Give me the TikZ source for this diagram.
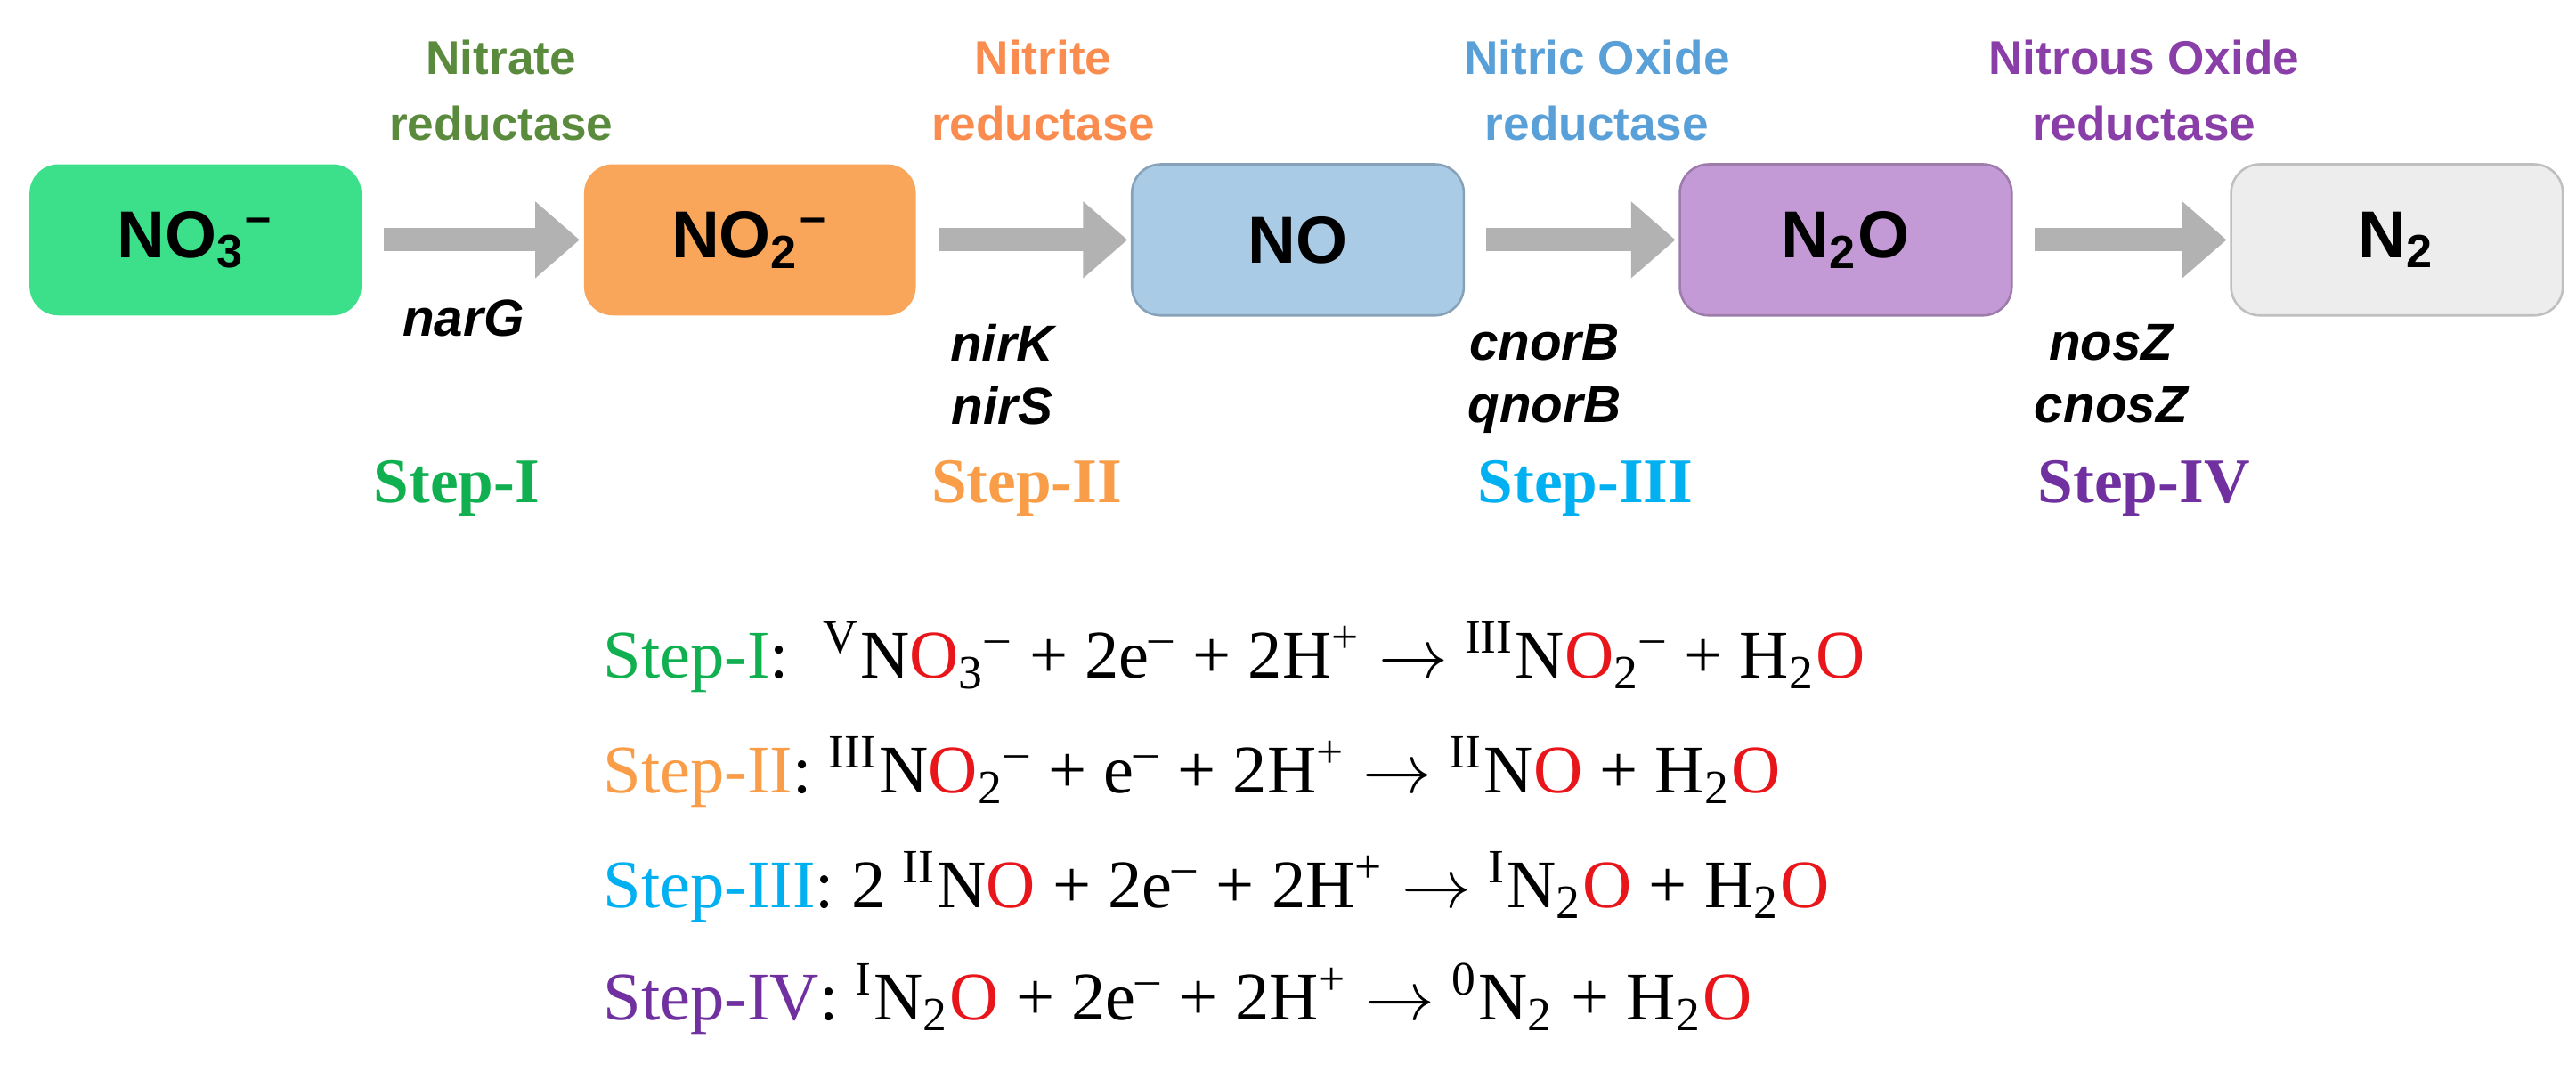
\documentclass[tikz,border=0pt]{standalone}
\usepackage{fontspec}
\setmainfont{Liberation Serif}
\setsansfont{Liberation Sans}
\usetikzlibrary{arrows.meta}
\definecolor{cg}{HTML}{3DE08A}\definecolor{co}{HTML}{F9A65A}\definecolor{cb}{HTML}{A9CBE6}
\definecolor{cp}{HTML}{C49AD6}\definecolor{cgr}{HTML}{EDEDED}
\definecolor{eg}{HTML}{5A8A3C}\definecolor{eo}{HTML}{F98C4E}\definecolor{eb}{HTML}{5AA0D8}\definecolor{ep}{HTML}{8A3FA8}
\definecolor{sg}{HTML}{10B050}\definecolor{so}{HTML}{F99D48}\definecolor{sb}{HTML}{00B0F0}\definecolor{sp}{HTML}{7030A0}
\definecolor{ox}{HTML}{E8161B}
\tikzset{
 spec/.style={rounded corners=5pt,minimum width=2.02cm,minimum height=0.92cm,font=\sffamily\bfseries\fontsize{11.5}{13}\selectfont},
 enz/.style={font=\sffamily\bfseries\fontsize{8.2}{11.3}\selectfont,align=center},
 gene/.style={font=\sffamily\bfseries\itshape\fontsize{9}{10.8}\selectfont,align=center,anchor=north},
 stp/.style={font=\bfseries\fontsize{11}{13}\selectfont},
 eq/.style={font=\fontsize{11.8}{13}\selectfont,anchor=west},
 arr/.style={line width=0.14cm,draw=gray!60,-{Triangle[length=0.27cm,width=0.45cm]}}
}
\begin{document}
\begin{tikzpicture}[x=1cm,y=1cm]
\useasboundingbox (0,0) rectangle (15.68,6.57);
\node[spec,fill=cg] (a) at (1.19,5.11) {NO\textsubscript{3}\textsuperscript{–}};
\node[spec,fill=co] (b) at (4.565,5.11) {NO\textsubscript{2}\textsuperscript{–}};
\node[spec,fill=cb,draw=cb!80!black,thin] (c) at (7.9,5.11) {NO};
\node[spec,fill=cp,draw=cp!80!black,thin] (d) at (11.235,5.11) {N\textsubscript{2}O};
\node[spec,fill=cgr,draw=gray!50,thin] (e) at (14.59,5.11) {N\textsubscript{2}};
\draw[arr] ([xshift=0.13cm]a.east) -- ([xshift=-0.02cm]b.west);
\draw[arr] ([xshift=0.13cm]b.east) -- ([xshift=-0.02cm]c.west);
\draw[arr] ([xshift=0.13cm]c.east) -- ([xshift=-0.02cm]d.west);
\draw[arr] ([xshift=0.13cm]d.east) -- ([xshift=-0.02cm]e.west);
\node[enz,text=eg] (ea) at (3.05,6.02) {Nitrate\\reductase};
\node[enz,text=eo] (eb) at (6.35,6.02) {Nitrite\\reductase};
\node[enz,text=eb] (ec) at (9.72,6.02) {Nitric Oxide\\reductase};
\node[enz,text=ep] (ed) at (13.05,6.02) {Nitrous Oxide\\reductase};
\node[gene] (ga) at (2.82,4.87) {narG};
\node[gene] (gb) at (6.1,4.72) {nirK\\nirS};
\node[gene] (gc) at (9.4,4.72) {cnorB\\qnorB};
\node[gene] (gd) at (12.85,4.72) {nosZ\\cnosZ};
\node[stp,text=sg] (sa) at (2.78,3.6) {Step-I};
\node[stp,text=so] (sb) at (6.25,3.6) {Step-II};
\node[stp,text=sb] (sc) at (9.65,3.6) {Step-III};
\node[stp,text=sp] (sd) at (13.05,3.6) {Step-IV};
\node[eq] (q1) at (3.55,2.57) {\textcolor{sg}{Step-I}:\ \ \textsuperscript{V}N\textcolor{ox}{O}\textsubscript{3}\textsuperscript{–} + 2e\textsuperscript{–} + 2H\textsuperscript{+} $\rightarrow$ \textsuperscript{III}N\textcolor{ox}{O}\textsubscript{2}\textsuperscript{–} + H\textsubscript{2}\textcolor{ox}{O}};
\node[eq] (q2) at (3.55,1.87) {\textcolor{so}{Step-II}:\ \textsuperscript{III}N\textcolor{ox}{O}\textsubscript{2}\textsuperscript{–} + e\textsuperscript{–} + 2H\textsuperscript{+} $\rightarrow$ \textsuperscript{II}N\textcolor{ox}{O} + H\textsubscript{2}\textcolor{ox}{O}};
\node[eq] (q3) at (3.55,1.17) {\textcolor{sb}{Step-III}:\ 2 \textsuperscript{II}N\textcolor{ox}{O} + 2e\textsuperscript{–} + 2H\textsuperscript{+} $\rightarrow$ \textsuperscript{I}N\textsubscript{2}\textcolor{ox}{O} + H\textsubscript{2}\textcolor{ox}{O}};
\node[eq] (q4) at (3.55,0.49) {\textcolor{sp}{Step-IV}:\ \textsuperscript{I}N\textsubscript{2}\textcolor{ox}{O} + 2e\textsuperscript{–} + 2H\textsuperscript{+} $\rightarrow$ \textsuperscript{0}N\textsubscript{2} + H\textsubscript{2}\textcolor{ox}{O}};
\end{tikzpicture}
\end{document}
